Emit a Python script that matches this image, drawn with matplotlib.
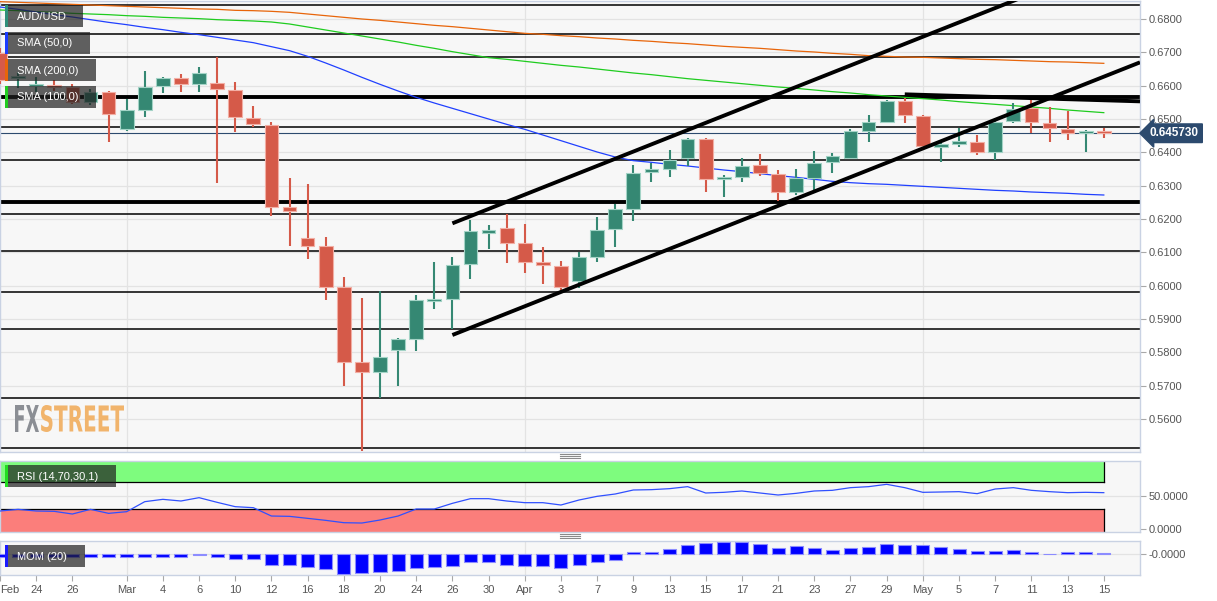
import matplotlib
matplotlib.use('Agg')
import matplotlib.pyplot as plt
from matplotlib.patches import Rectangle, PathPatch
from matplotlib.textpath import TextPath
from matplotlib.font_manager import FontProperties
from matplotlib.transforms import Affine2D
from matplotlib.lines import Line2D

plt.rcParams['font.family'] = ['Liberation Sans', 'DejaVu Sans']

# ---------------- data ----------------
dates = ["Feb 20", "Feb 21", "Feb 24", "Feb 25", "Feb 26", "Feb 27", "Feb 28",
         "Mar 2", "Mar 3", "Mar 4", "Mar 5", "Mar 6", "Mar 9", "Mar 10", "Mar 11", "Mar 12",
         "Mar 13", "Mar 16", "Mar 17", "Mar 18", "Mar 19", "Mar 20", "Mar 23", "Mar 24",
         "Mar 25", "Mar 26", "Mar 27", "Mar 30", "Mar 31", "Apr 1", "Apr 2", "Apr 3",
         "Apr 6", "Apr 7", "Apr 8", "Apr 9", "Apr 10", "Apr 13", "Apr 14", "Apr 15",
         "Apr 16", "Apr 17", "Apr 20", "Apr 21", "Apr 22", "Apr 23", "Apr 24", "Apr 27",
         "Apr 28", "Apr 29", "Apr 30", "May 1", "May 4", "May 5", "May 6", "May 7",
         "May 8", "May 11", "May 12", "May 13", "May 14", "May 15"]

opens = [0.6698, 0.6624, 0.6600, 0.6600, 0.6597, 0.6552, 0.6580, 0.6470, 0.6527, 0.6599,
         0.6622, 0.6604, 0.6609, 0.6587, 0.6504, 0.6482, 0.6237, 0.6144, 0.6119, 0.5997,
         0.5772, 0.5742, 0.5807, 0.5839, 0.5955, 0.5959, 0.6064, 0.6159, 0.6173, 0.6129,
         0.6071, 0.6059, 0.6015, 0.6087, 0.6169, 0.6230, 0.6341, 0.6349, 0.6382, 0.6440,
         0.6321, 0.6327, 0.6362, 0.6335, 0.6280, 0.6324, 0.6370, 0.6384, 0.6465, 0.6491,
         0.6555, 0.6510, 0.6415, 0.6427, 0.6431, 0.6400, 0.6495, 0.6534, 0.6489, 0.6470,
         0.6457, 0.6464]
highs = [0.6713, 0.6641, 0.6626, 0.6617, 0.6605, 0.6589, 0.6584, 0.6560, 0.6644, 0.6627,
         0.6635, 0.6657, 0.6686, 0.6610, 0.6539, 0.6490, 0.6322, 0.6305, 0.6147, 0.6025,
         0.5962, 0.5984, 0.5844, 0.5972, 0.6072, 0.6085, 0.6197, 0.6182, 0.6214, 0.6185,
         0.6115, 0.6074, 0.6102, 0.6207, 0.6245, 0.6361, 0.6367, 0.6407, 0.6444, 0.6442,
         0.6332, 0.6382, 0.6394, 0.6347, 0.6349, 0.6404, 0.6397, 0.6470, 0.6512, 0.6557,
         0.6562, 0.6512, 0.6427, 0.6474, 0.6452, 0.6502, 0.6547, 0.6559, 0.6535, 0.6525,
         0.6467, 0.6474]
lows = [0.6605, 0.6593, 0.6581, 0.6584, 0.6545, 0.6542, 0.6432, 0.6464, 0.6507, 0.6577,
        0.6582, 0.6582, 0.6309, 0.6462, 0.6477, 0.6210, 0.6120, 0.6079, 0.5957, 0.5700,
        0.5505, 0.5662, 0.5700, 0.5805, 0.5929, 0.5869, 0.6020, 0.6111, 0.6069, 0.6037,
        0.6005, 0.5985, 0.5992, 0.6072, 0.6115, 0.6195, 0.6312, 0.6325, 0.6360, 0.6282,
        0.6265, 0.6312, 0.6330, 0.6255, 0.6273, 0.6287, 0.6337, 0.6381, 0.6432, 0.6487,
        0.6489, 0.6412, 0.6372, 0.6417, 0.6392, 0.6377, 0.6489, 0.6459, 0.6432, 0.6437,
        0.6402, 0.6444]
closes = [0.6617, 0.6626, 0.6602, 0.6597, 0.6552, 0.6580, 0.6515, 0.6527, 0.6597, 0.6622,
          0.6605, 0.6637, 0.6589, 0.6505, 0.6484, 0.6237, 0.6225, 0.6119, 0.5997, 0.5772,
          0.5742, 0.5785, 0.5839, 0.5957, 0.5959, 0.6062, 0.6165, 0.6167, 0.6129, 0.6071,
          0.6061, 0.5997, 0.6085, 0.6167, 0.6229, 0.6339, 0.6349, 0.6377, 0.6440, 0.6320,
          0.6327, 0.6360, 0.6337, 0.6281, 0.6322, 0.6367, 0.6389, 0.6464, 0.6490, 0.6555,
          0.6512, 0.6419, 0.6425, 0.6432, 0.6400, 0.6492, 0.6530, 0.6490, 0.6472, 0.6457,
          0.6464, 0.6459]

sma50 = [0.6836, 0.6829, 0.6821, 0.6813, 0.6806, 0.6798, 0.6790, 0.6783, 0.6775, 0.6768,
         0.6760, 0.6753, 0.6745, 0.6737, 0.6729, 0.6717, 0.6705, 0.6688, 0.6668, 0.6647,
         0.6625, 0.6604, 0.6584, 0.6565, 0.6548, 0.6532, 0.6516, 0.6500, 0.6484, 0.6469,
         0.6452, 0.6435, 0.6418, 0.6401, 0.6386, 0.6375, 0.6370, 0.6364, 0.6359, 0.6353,
         0.6347, 0.6342, 0.6336, 0.6330, 0.6325, 0.6319, 0.6313, 0.6309, 0.6306, 0.6304,
         0.6301, 0.6298, 0.6295, 0.6292, 0.6289, 0.6286, 0.6284, 0.6281, 0.6279, 0.6277,
         0.6274, 0.6272]
sma100 = [0.6827, 0.6825, 0.6822, 0.6820, 0.6817, 0.6815, 0.6813, 0.6810, 0.6808, 0.6805,
          0.6803, 0.6801, 0.6798, 0.6796, 0.6794, 0.6791, 0.6785, 0.6776, 0.6767, 0.6758,
          0.6749, 0.6740, 0.6731, 0.6721, 0.6712, 0.6702, 0.6693, 0.6684, 0.6679, 0.6673,
          0.6667, 0.6661, 0.6656, 0.6650, 0.6644, 0.6638, 0.6633, 0.6627, 0.6621, 0.6616,
          0.6611, 0.6606, 0.6601, 0.6596, 0.6592, 0.6587, 0.6582, 0.6578, 0.6573, 0.6569,
          0.6565, 0.6561, 0.6557, 0.6552, 0.6548, 0.6544, 0.6540, 0.6536, 0.6532, 0.6527,
          0.6523, 0.6519]
sma200 = [0.6852, 0.6850, 0.6848, 0.6846, 0.6844, 0.6842, 0.6840, 0.6838, 0.6836, 0.6834,
          0.6832, 0.6830, 0.6829, 0.6826, 0.6825, 0.6823, 0.6820, 0.6815, 0.6810, 0.6805,
          0.6800, 0.6796, 0.6791, 0.6786, 0.6781, 0.6777, 0.6772, 0.6767, 0.6762, 0.6757,
          0.6754, 0.6750, 0.6747, 0.6743, 0.6740, 0.6736, 0.6733, 0.6729, 0.6726, 0.6722,
          0.6718, 0.6715, 0.6712, 0.6708, 0.6704, 0.6701, 0.6697, 0.6694, 0.6690, 0.6688,
          0.6686, 0.6685, 0.6683, 0.6681, 0.6679, 0.6678, 0.6676, 0.6674, 0.6672, 0.6671,
          0.6669, 0.6667]

rsi = [27, 29.5, 27, 26.5, 22.5, 29.5, 23.5, 26, 41, 44.5, 42, 47, 40, 33.5, 32, 19.5,
       19, 16, 13, 9.5, 9, 13.5, 19.5, 30, 30, 38.5, 45.5, 45.5, 42, 39.5, 39.5, 36,
       43.5, 49, 52.5, 58.5, 59, 60.5, 63.5, 54, 55, 57, 54, 51, 53.5, 57, 58, 62,
       63.5, 67, 62, 55, 55.5, 56, 53, 60, 62, 58, 56, 54.5, 55, 54.5]

mom = [-0.0105, -0.012, -0.012, -0.012, -0.012, -0.012, -0.012, -0.012, -0.012, -0.0105,
       -0.012, -0.0045, -0.012, -0.0195, -0.021, -0.048, -0.048, -0.0585, -0.0675, -0.087,
       -0.084, -0.081, -0.075, -0.063, -0.0585, -0.051, -0.033, -0.036, -0.048, -0.0525,
       -0.0525, -0.063, -0.048, -0.033, -0.024, 0.009, 0.0105, 0.024, 0.042, 0.051,
       0.0555, 0.0555, 0.0465, 0.030, 0.036, 0.0285, 0.0195, 0.027, 0.0345, 0.045,
       0.042, 0.0405, 0.033, 0.024, 0.015, 0.0135, 0.018, 0.009, 0.003, 0.012,
       0.012, 0.0075]

thin_levels = [0.6843, 0.6754, 0.6685, 0.6475, 0.6377, 0.6214, 0.6103, 0.5980, 0.5870,
               0.5662, 0.5512]
thick_levels = [0.6565, 0.6250]
last_price = 0.645730
upper_channel = ([25, 57], [0.6187, 0.6876])
lower_channel = ([25, 63], [0.5852, 0.6670])
resistance = ([50, 63], [0.6574, 0.6553])

tick_pos = [0, 2, 4, 7, 9, 11, 13, 15, 17, 19, 21, 23, 25, 27, 29, 31, 33, 35, 37, 39,
            41, 43, 45, 47, 49, 51, 53, 55, 57, 59, 61]
tick_labels = ["Feb", "24", "26", "Mar", "4", "6", "10", "12", "16", "18", "20", "24",
               "26", "30", "Apr", "3", "7", "9", "13", "15", "17", "21", "23", "27", "29",
               "May", "5", "7", "11", "13", "15"]
month_pos = [7, 29, 51]
price_ticks = [0.56, 0.57, 0.58, 0.59, 0.60, 0.61, 0.62, 0.63, 0.64, 0.65, 0.66, 0.67, 0.68]

# ---------------- figure ----------------
W, H = 1217, 601
fig = plt.figure(figsize=(W / 100, H / 100), dpi=100)
fig.patch.set_facecolor('white')


def ax_rect(left, top, right, bottom):
    return [left / W, 1 - bottom / H, (right - left) / W, (bottom - top) / H]


BG = '#f7f7f7'
BORDER = '#c9d2e3'
GRID = '#e3e3e3'
GREEN = '#358873'
RED = '#d55a49'

ax = fig.add_axes(ax_rect(0, 1, 1140, 452))
ax_rsi = fig.add_axes(ax_rect(0, 460.7, 1140, 531.7), sharex=ax)
ax_mom = fig.add_axes(ax_rect(0, 540.7, 1140, 575), sharex=ax)

for a in (ax, ax_rsi, ax_mom):
    a.set_facecolor(BG)
    for s in a.spines.values():
        s.set_color(BORDER)
        s.set_linewidth(1.0)
    a.yaxis.tick_right()
    a.tick_params(axis='y', direction='out', length=4, width=0.8, color='#a8a8a8',
                  labelcolor='#555555', labelsize=8, pad=2)
    a.tick_params(axis='x', direction='out', length=4, width=0.8, color='#a8a8a8',
                  labelcolor='#555555', labelsize=8, pad=3)
    for mp in month_pos:
        a.axvline(mp, color=GRID, lw=0.9, zorder=0.5)

n = len(dates)
pos = list(range(n))
ax.set_xlim(0, 63)

# main panel
ax.set_ylim(0.5501, 0.6854)
ax.set_yticks(price_ticks)
ax.set_yticklabels(['%.4f' % v for v in price_ticks])
for v in price_ticks:
    ax.axhline(v, color=GRID, lw=0.9, zorder=0.5)
for v in thin_levels:
    ax.axhline(v, color='black', lw=1.1, zorder=2)
for v in thick_levels:
    ax.axhline(v, color='black', lw=2.8, zorder=2)
ax.axhline(last_price, color='#2c4a6e', lw=0.8, zorder=2)

ax.plot(pos, sma200, color='#e8650a', lw=0.9, zorder=3)
ax.plot(pos, sma100, color='#1fcc1f', lw=0.9, zorder=3)
ax.plot(pos, sma50, color='#2040ff', lw=0.9, zorder=3)

for i in range(n):
    up = closes[i] >= opens[i]
    col = GREEN if up else RED
    ecol = '#a3d3c6' if up else '#f2aea4'
    ax.vlines(pos[i], lows[i], highs[i], color=col, lw=1.5, zorder=4)
    lo = min(opens[i], closes[i])
    hgt = max(abs(closes[i] - opens[i]), 0.0006)
    if abs(closes[i] - opens[i]) < 0.0006:
        lo = (opens[i] + closes[i]) / 2 - 0.0003
    ax.add_patch(Rectangle((pos[i] - 0.38, lo), 0.76, hgt, facecolor=col,
                           edgecolor=ecol, lw=0.8, zorder=5))

for xs, ys in (upper_channel, lower_channel, resistance):
    ax.plot(xs, ys, color='black', lw=2.8, solid_capstyle='butt', zorder=6)

ax.tick_params(axis='x', labelbottom=False, length=0)
ax.annotate('%.6f' % last_price, xy=(1.0, last_price), xycoords=ax.get_yaxis_transform(),
            xytext=(10, 0), textcoords='offset pixels', ha='left', va='center',
            color='white', fontsize=8.5, fontweight='bold', zorder=20,
            bbox=dict(boxstyle='larrow,pad=0.28', fc='#2c4a6e', ec='#2c4a6e'),
            annotation_clip=False)

# RSI panel
ax_rsi.set_ylim(-4, 102.4)
ax_rsi.set_yticks([0, 50])
ax_rsi.set_yticklabels(['0.0000', '50.0000'])
ax_rsi.axhline(50, color=GRID, lw=0.9, zorder=0.5)
ax_rsi.add_patch(Rectangle((0, 70), 61, 30, facecolor='#7efc7e', edgecolor='none', zorder=1))
ax_rsi.add_patch(Rectangle((0, -4), 61, 34, facecolor='#fb7e7b', edgecolor='none', zorder=1))
ax_rsi.plot([0, 61], [70, 70], color='black', lw=0.9, zorder=2)
ax_rsi.plot([0, 61], [30, 30], color='black', lw=0.9, zorder=2)
ax_rsi.plot([61, 61], [70, 100], color='black', lw=0.9, zorder=2)
ax_rsi.plot([61, 61], [-4, 30], color='black', lw=0.9, zorder=2)
ax_rsi.plot(pos, rsi, color='#3050ff', lw=0.9, zorder=3)
ax_rsi.tick_params(axis='x', labelbottom=False, length=0)

# MOM panel
ax_mom.set_ylim(-0.093, 0.0615)
ax_mom.set_yticks([0])
ax_mom.set_yticklabels(['-0.0000'])
ax_mom.axhline(0, color=GRID, lw=0.9, zorder=0.5)
ax_mom.bar(pos, mom, width=0.72, color='#0000ff', edgecolor='#8c8cff', lw=0.8, zorder=3)
ax_mom.set_xticks(tick_pos)
ax_mom.set_xticklabels(tick_labels)
ax_mom.get_xticklabels()[0].set_horizontalalignment('left')

# ---------------- overlays (figure pixel coords) ----------------
def fig_rect(x, y, w, h, **kw):
    r = Rectangle((x / W, 1 - (y + h) / H), w / W, h / H, transform=fig.transFigure, **kw)
    fig.add_artist(r)


legends = [("AUD/USD", 5, 83, '#2f8f7a'),
           ("SMA (50,0)", 32, 90, '#1a3cff'),
           ("SMA (200,0)", 59, 96, '#e8650a'),
           ("SMA (100,0)", 86, 96, '#22cc22'),
           ("RSI (14,70,30,1)", 465, 116, '#22dd22'),
           ("MOM (20)", 545, 85, '#1a1aff')]
for txt, ytop, xr, scol in legends:
    fig_rect(7, ytop, xr - 7, 22, facecolor=(0.12, 0.12, 0.12), alpha=0.7,
             edgecolor='none', zorder=10)
    fig_rect(5, ytop, 2.5, 22, facecolor=scol, edgecolor='none', zorder=11)
    fig.text(17 / W, 1 - (ytop + 11.5) / H, txt, color='white', fontsize=8,
             va='center', ha='left', zorder=12)

# panel handles
for yc in (456.3, 536.3):
    for dy in (-2, 0, 2):
        fig.add_artist(Line2D([560 / W, 580 / W], [1 - (yc + dy) / H] * 2,
                              color='#8a8a8a', lw=0.8, transform=fig.transFigure, zorder=12))

# logo
def draw_logo(text, x0, x1, ytop, ybot, color):
    fp = FontProperties(family='DejaVu Sans', weight='bold')
    tp = TextPath((0, 0), text, size=100, prop=fp)
    ext = tp.get_extents()
    sx = (x1 - x0) / ext.width
    sy = (ybot - ytop) / ext.height
    tr = (Affine2D().translate(-ext.x0, -ext.y0).scale(sx, sy)
          .translate(x0, H - ybot).scale(1 / W, 1 / H) + fig.transFigure)
    fig.add_artist(PathPatch(tp, transform=tr, facecolor=color, edgecolor='none', zorder=9))


draw_logo("FX", 15, 39, 405, 432, '#8b8e94')
draw_logo("STREET", 41, 124, 405, 432, '#f1b46c')

fig.savefig('out.png', dpi=100, facecolor='white')
